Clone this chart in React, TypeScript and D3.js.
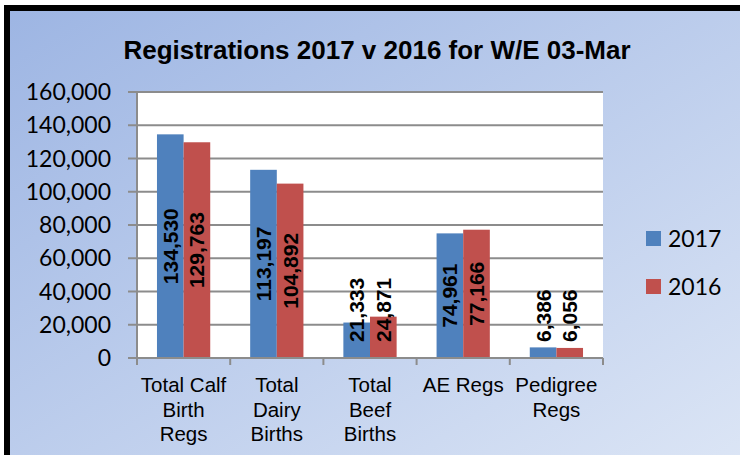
import React from 'react';
import * as d3 from 'd3';

// chart data
const categories = ['Total Calf Birth Regs', 'Total Dairy Births', 'Total Beef Births', 'AE Regs', 'Pedigree Regs'];
const categoryLines = [
  ['Total Calf', 'Birth', 'Regs'],
  ['Total', 'Dairy', 'Births'],
  ['Total', 'Beef', 'Births'],
  ['AE Regs'],
  ['Pedigree', 'Regs'],
];
const seriesNames = ['2017', '2016'];
const values2017 = [134530, 113197, 21333, 74961, 6386];
const values2016 = [129763, 104892, 24871, 77166, 6056];
const yTicks = [0, 20000, 40000, 60000, 80000, 100000, 120000, 140000, 160000];
const colors = ['#4F81BD', '#C0504D'];

const W = 740;
const H = 455;
const margin = { top: 92, right: 137, bottom: 97, left: 137 };

const App = () => {
  const seriesValues = [values2017, values2016];
  const fmt = d3.format(',');

  const x0 = d3.scaleBand<string>()
    .domain(categories)
    .range([margin.left, W - margin.right])
    .paddingInner(0)
    .paddingOuter(0);

  const x1 = d3.scaleBand<string>()
    .domain(seriesNames)
    .range([0, x0.bandwidth()])
    .paddingInner(0)
    .paddingOuter(0.75);

  const y = d3.scaleLinear()
    .domain([0, 160000])
    .range([H - margin.bottom, margin.top]);

  const y0 = y(0);
  const labelSize = 21;
  const textLen = (s: string) => {
    let n = 0;
    for (const c of s) n += c === ',' ? 0.278 : 0.556;
    return n * labelSize;
  };

  return (
    <svg width={W} height={H} style={{ position: 'absolute', left: 0, top: 0 }}>
      <defs>
        <linearGradient id="bg" x1="0" y1="0" x2="1" y2="1">
          <stop offset="0%" stopColor="#9DB5E3" />
          <stop offset="100%" stopColor="#DEE7F6" />
        </linearGradient>
      </defs>
      <rect x={0} y={0} width={W} height={H} fill="white" />
      <rect x={7} y={8} width={W + 20} height={H + 20} fill="url(#bg)" stroke="#000" strokeWidth={6} />

      {/* title */}
      <text x={377} y={59} textAnchor="middle" fontFamily="Liberation Sans, Arial" fontWeight="bold" fontSize={26}>
        Registrations 2017 v 2016 for W/E 03-Mar
      </text>

      {/* plot area */}
      <rect x={margin.left} y={margin.top} width={W - margin.left - margin.right} height={y0 - margin.top} fill="#fff" />

      {yTicks.map(t => (
        <g key={t}>
          {t > 0 && (
            <line x1={margin.left} x2={W - margin.right} y1={y(t)} y2={y(t)} stroke="#8C8C8C" strokeWidth={2} />
          )}
          <line x1={margin.left - 9} x2={margin.left} y1={y(t)} y2={y(t)} stroke="#8C8C8C" strokeWidth={2} />
          <text x={111} y={y(t)} dy="0.35em" textAnchor="end" fontFamily="Lato" fontSize={23}>
            {fmt(t)}
          </text>
        </g>
      ))}

      {/* bars */}
      {categories.map((c, i) => (
        <g key={c}>
          {seriesNames.map((s, j) => {
            const v = seriesValues[j][i];
            const bx = x0(c)! + x1(s)!;
            const bw = x1.bandwidth();
            return (
              <rect key={s} x={bx} y={y(v)} width={bw} height={y0 - y(v)} fill={colors[j]} />
            );
          })}
        </g>
      ))}

      {/* axes lines */}
      <line x1={margin.left} x2={margin.left} y1={margin.top} y2={y0 + 1} stroke="#8C8C8C" strokeWidth={2} />
      <line x1={margin.left - 9} x2={W - margin.right} y1={y0} y2={y0} stroke="#8C8C8C" strokeWidth={2} />
      {d3.range(categories.length + 1).map(k => {
        const tx = margin.left + k * x0.step();
        return <line key={k} x1={tx} x2={tx} y1={y0} y2={y0 + 7} stroke="#8C8C8C" strokeWidth={2} />;
      })}

      {/* data labels */}
      {categories.map((c, i) => (
        <g key={'l' + c}>
          {seriesNames.map((s, j) => {
            const v = seriesValues[j][i];
            const cx = x0(c)! + x1(s)! + x1.bandwidth() / 2;
            const label = fmt(v);
            const len = textLen(label);
            const centerY = (y(v) + y0) / 2;
            const overflow = centerY + len / 2 > y0 - 16;
            const ly = overflow ? y0 - 16 : centerY;
            return (
              <text
                key={s}
                transform={`translate(${cx},${ly}) rotate(-90)`}
                textAnchor={overflow ? 'start' : 'middle'}
                dominantBaseline="central"
                fontFamily="Liberation Sans, Arial"
                fontWeight="bold"
                fontSize={labelSize}
              >
                {label}
              </text>
            );
          })}
        </g>
      ))}

      {/* category labels */}
      {categories.map((c, i) => (
        <text key={'c' + c} textAnchor="middle" fontFamily="Liberation Sans, Arial" fontSize={20.5}>
          {categoryLines[i].map((ln, k) => (
            <tspan key={k} x={x0(c)! + x0.bandwidth() / 2} y={392 + k * 24.5}>{ln}</tspan>
          ))}
        </text>
      ))}

      {/* legend */}
      {seriesNames.map((s, j) => (
        <g key={'lg' + s} transform={`translate(646,${231 + j * 48})`}>
          <rect x={0} y={0} width={15} height={15} fill={colors[j]} />
          <text x={22} y={7.5} dy="0.35em" fontFamily="Lato" fontSize={23}>{s}</text>
        </g>
      ))}
    </svg>
  );
};

export default App;
